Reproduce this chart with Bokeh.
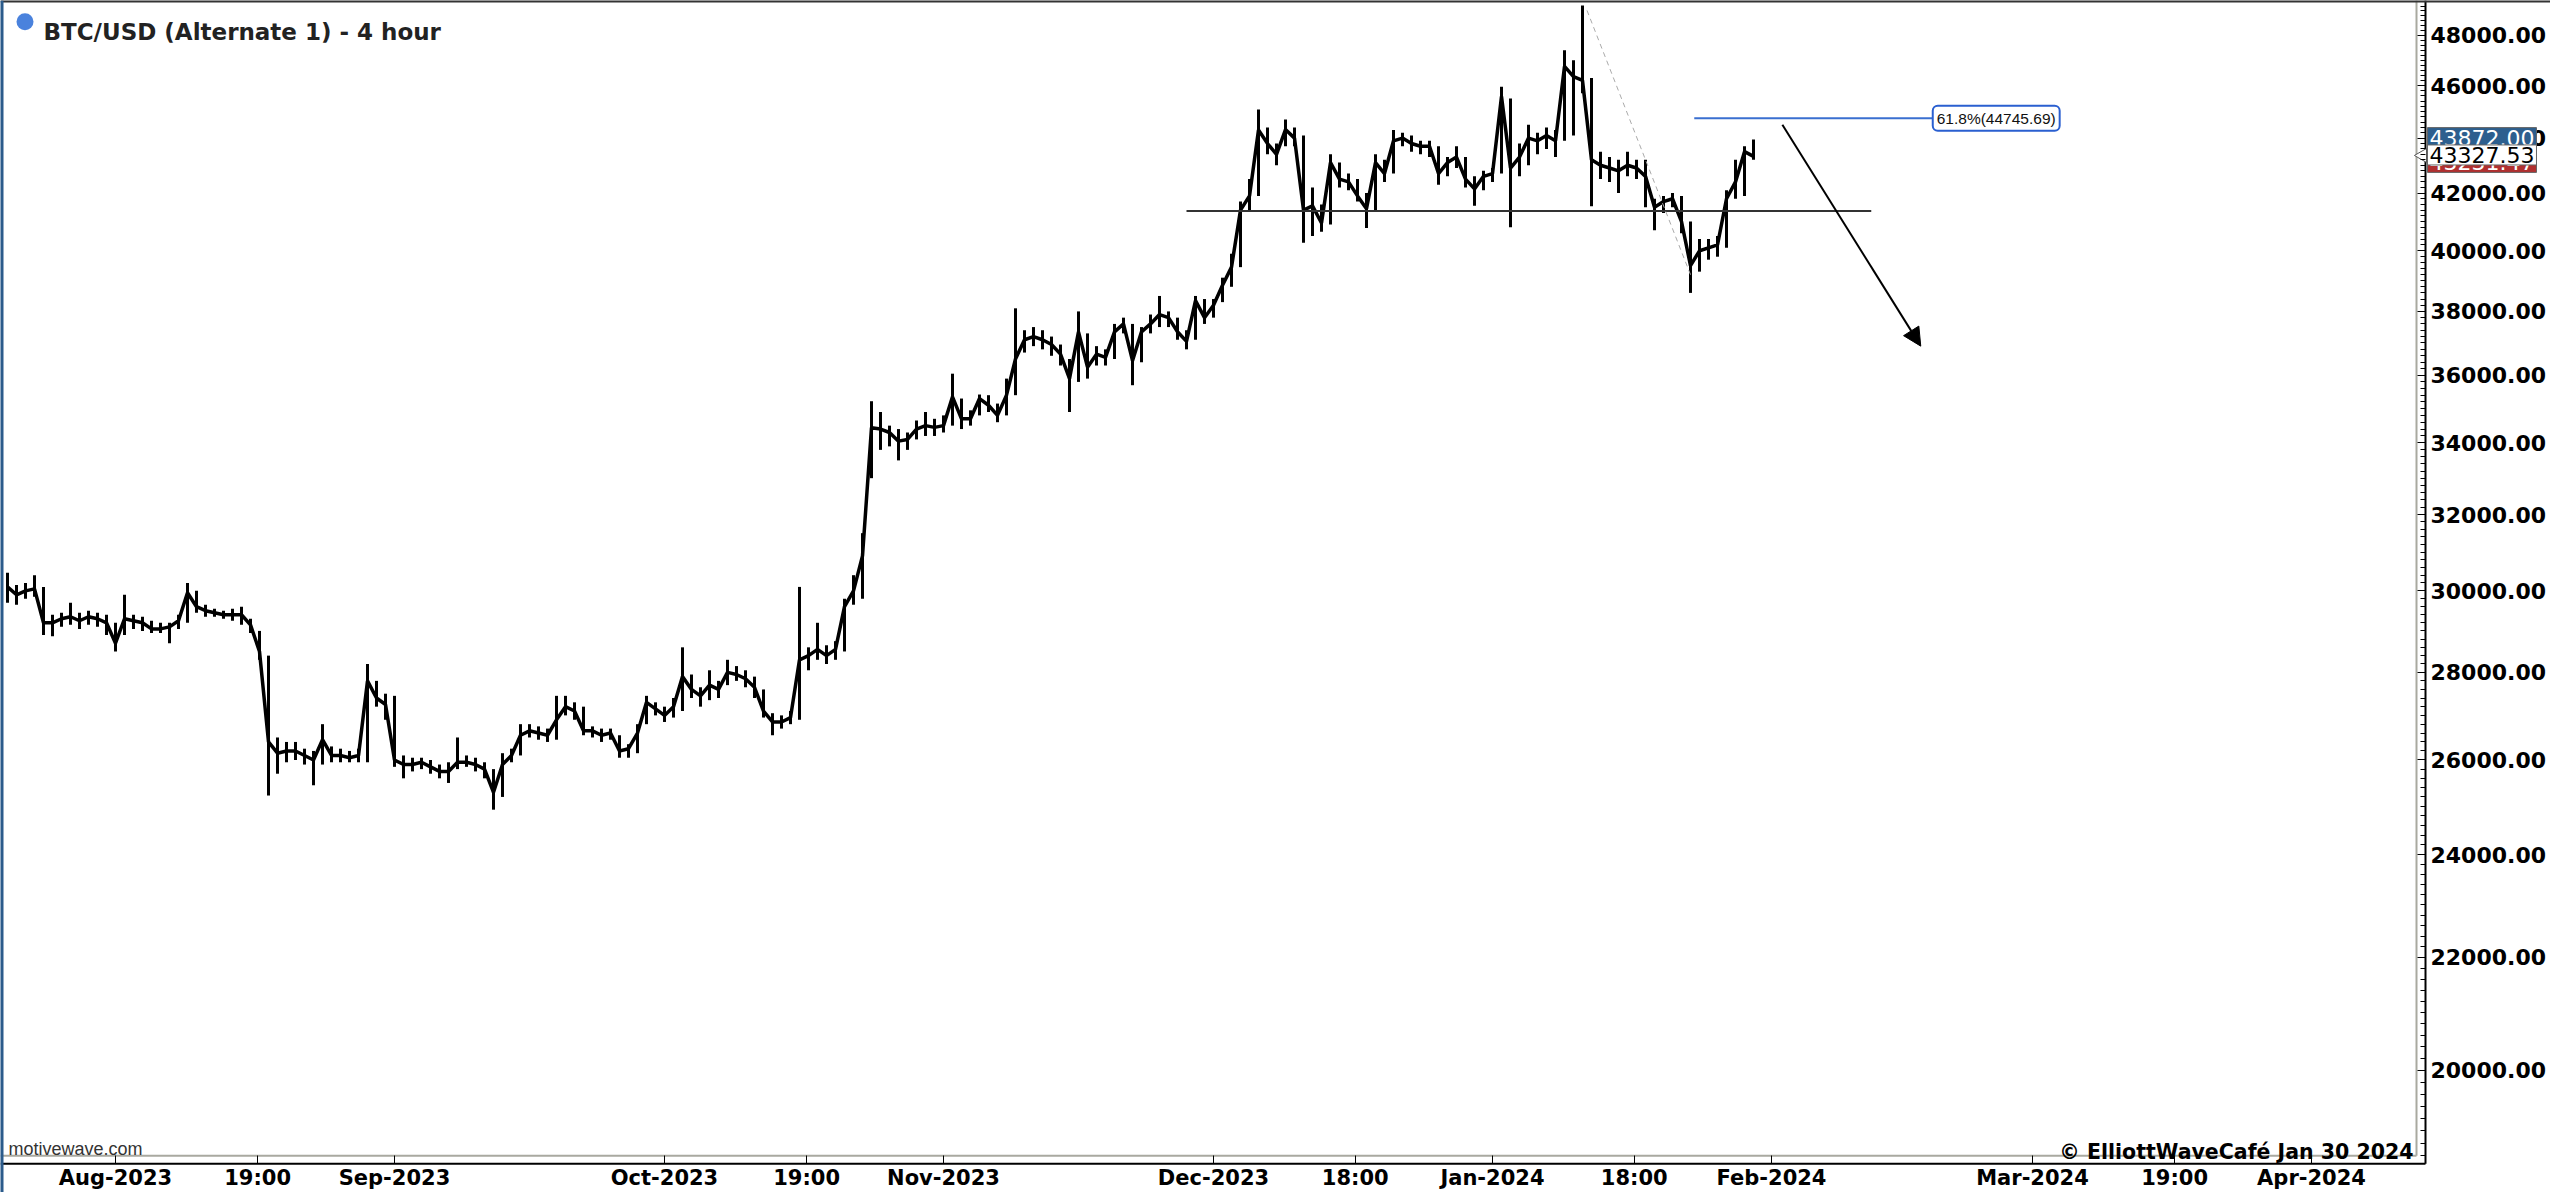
import numpy as np
import pandas as pd
from bokeh.plotting import figure
from bokeh.models import (Range1d, FixedTicker, NumeralTickFormatter, Label, Span,
                          Arrow, NormalHead, ColumnDataSource)
from bokeh.embed import file_html
from bokeh.resources import INLINE

# ---------------- data (daily readings of the 4h chart) ----------------
start_date = "2023-07-20"
close = [30100, 29900, 30000, 30050, 29200, 29200, 29300, 29350, 29250, 29350,
         29300, 29200, 28700, 29300, 29250, 29200, 29050, 29050, 29100, 29250,
         29950, 29600, 29500, 29450, 29400, 29400, 29400, 29150, 28500, 26400,
         26150, 26200, 26200, 26100, 26000, 26450, 26100, 26100, 26050, 26100,
         27800, 27400, 27250, 26000, 25900, 25900, 25950, 25850, 25750, 25750,
         25950, 25950, 25900, 25800, 25300, 25900, 26100, 26550, 26650, 26600,
         26550, 26900, 27200, 27100, 26650, 26650, 26550, 26600, 26200, 26250,
         26600, 27300, 27150, 27000, 27200, 27900, 27600, 27450, 27700, 27600,
         28000, 27950, 27850, 27650, 27100, 26850, 26850, 26950, 28300, 28400,
         28550, 28400, 28550, 29600, 30000, 30900, 34440, 34400, 34300, 34050,
         34100, 34400, 34500, 34450, 34500, 35350, 34700, 34700, 35300, 35100,
         34800, 35400, 36500, 37100, 37200, 37100, 36950, 36650, 35900, 37350,
         36250, 36650, 36550, 37350, 37600, 36450, 37350, 37600, 37900, 37800,
         37350, 37050, 38350, 37800, 38200, 38850, 39450, 41400, 41900, 44300,
         43800, 43400, 44320, 44000, 41400, 41550, 40950, 43100, 42500, 42400,
         41900, 41450, 43100, 42700, 43900, 44000, 43800, 43700, 43700, 42700,
         43100, 43300, 42500, 42150, 42600, 42700, 45580, 42900, 43300, 44000,
         43900, 44100, 43900, 46750, 46350, 46200, 43200, 43000, 42900, 42800,
         43000, 42900, 42600, 41500, 41700, 41800, 41000, 39500, 40000, 40100,
         40200, 41800, 42400, 43500, 43327.53]
high = [30460, 30150, 30200, 30400, 30100, 29400, 29450, 29700, 29450, 29500,
        29450, 29400, 29200, 29900, 29400, 29350, 29250, 29200, 29200, 29400,
        30200, 30000, 29650, 29550, 29500, 29550, 29600, 29300, 29000, 28400,
        26500, 26400, 26400, 26250, 26200, 26800, 26300, 26250, 26200, 26250,
        28200, 27800, 27500, 27450, 26100, 26050, 26050, 26000, 25900, 25950,
        26500, 26100, 26050, 25950, 25800, 26150, 26250, 26800, 26800, 26750,
        26700, 27450, 27450, 27300, 27200, 26750, 26700, 26700, 26550, 26350,
        26800, 27450, 27300, 27200, 27400, 28600, 27950, 27650, 28050, 27800,
        28300, 28150, 28050, 27900, 27600, 27050, 27000, 27100, 30100, 28600,
        29200, 28650, 28750, 29800, 30400, 31500, 35220, 34900, 34500, 34400,
        34300, 34650, 34900, 34700, 34800, 36050, 35300, 34950, 35420, 35400,
        35150, 35900, 38100, 37400, 37500, 37400, 37200, 36950, 36500, 38000,
        37300, 36900, 36800, 37600, 37800, 37600, 37500, 37900, 38500, 38000,
        37800, 37400, 38500, 38400, 38400, 39100, 39900, 41700, 42500, 45080,
        44400, 43800, 44700, 44400, 44100, 42200, 41600, 43400, 43100, 42700,
        42500, 42000, 43400, 43200, 44300, 44200, 44100, 43900, 43900, 43700,
        43300, 43700, 43300, 42600, 42800, 42900, 45950, 45500, 43800, 44500,
        44200, 44400, 44300, 47400, 47000, 49220, 46300, 43500, 43300, 43200,
        43500, 43200, 43200, 41800, 41900, 42000, 41900, 41000, 40400, 40400,
        40500, 42100, 43200, 43700, 43950]
low = [29700, 29650, 29800, 29850, 28900, 28870, 29100, 29150, 29050, 29150,
       29100, 28900, 28500, 28900, 29050, 29000, 28950, 28950, 28700, 29050,
       29200, 29450, 29350, 29350, 29300, 29250, 29150, 28950, 28300, 25230,
       25700, 25950, 26000, 25900, 25450, 25900, 25950, 25950, 25950, 25950,
       25950, 27200, 26900, 25850, 25600, 25750, 25800, 25700, 25600, 25500,
       25800, 25850, 25750, 25600, 24930, 25200, 25950, 26100, 26500, 26450,
       26400, 26450, 27000, 26900, 26550, 26500, 26400, 26450, 26050, 26050,
       26150, 26800, 27000, 26850, 26950, 27100, 27400, 27200, 27350, 27400,
       27700, 27800, 27650, 27400, 26950, 26550, 26700, 26800, 26900, 28050,
       28300, 28200, 28300, 28500, 29650, 29800, 33000, 33800, 33900, 33500,
       33800, 34100, 34200, 34200, 34300, 34500, 34400, 34500, 34800, 34900,
       34600, 34800, 35400, 36700, 36900, 36800, 36600, 36300, 34900, 35800,
       35900, 36300, 36300, 36500, 37300, 35700, 36400, 37300, 37500, 37500,
       37100, 36800, 37100, 37600, 37800, 38300, 38800, 39450, 41400, 41900,
       43400, 43000, 43700, 43700, 40270, 40500, 40650, 40900, 42200, 42100,
       41700, 40780, 41400, 42400, 42700, 43700, 43500, 43400, 43300, 42300,
       42600, 42900, 42200, 41550, 42100, 42400, 42700, 40800, 42600, 43000,
       43400, 43600, 43300, 43900, 44100, 45700, 41540, 42500, 42400, 42000,
       42600, 42500, 41500, 40700, 41300, 41500, 40600, 38600, 39300, 39700,
       39800, 40100, 41800, 41900, 43200]

last_price = 43327.53
tag_blue = 43872.00
tag_red = 43231.47

y_ticks = list(range(20000, 48001, 2000))
tick_times = ["2023-08-01 00:00", "2023-08-16 19:00", "2023-09-01 00:00", "2023-10-01 00:00",
              "2023-10-16 19:00", "2023-11-01 00:00", "2023-12-01 00:00", "2023-12-16 18:00",
              "2024-01-01 00:00", "2024-01-16 18:00", "2024-02-01 00:00", "2024-03-01 00:00",
              "2024-03-16 19:00", "2024-04-01 00:00"]
tick_labels = ["Aug-2023", "19:00", "Sep-2023", "Oct-2023", "19:00", "Nov-2023", "Dec-2023",
               "18:00", "Jan-2024", "18:00", "Feb-2024", "Mar-2024", "19:00", "Apr-2024"]

# drawings
neck_price = 41370
neck_times = ["2023-11-28 00:00", "2024-02-12 02:00"]
fib_price = 44745.69
fib_times = ["2024-01-23 10:00", "2024-02-18 22:00"]
swing_times = ["2024-01-11 12:00", "2024-01-23 00:00"]
swing_prices = [49020, 39200]
arrow_times = ["2024-02-02 05:00", "2024-02-17 14:00"]
arrow_prices = [44500, 36900]

# ---------------- helpers ----------------
origin = pd.Timestamp("2023-08-01")
def hrs(t):
    return float((pd.Timestamp(t) - origin) / pd.Timedelta(hours=1))

dates = pd.date_range(start_date, periods=len(close), freq="D")
xh = ((dates - origin) / pd.Timedelta(hours=1)).to_numpy().astype(float)

# pixel layout of the reference -> data coords (layout only)
def px2x(xr):
    return (xr - 115.0) / 9.0 * 24.0
def py2p(yr):
    return 48000.0 * np.exp((35.0 - yr) / 1190.0)

W, H = 2550, 1192
x0, x1 = px2x(0), px2x(W)
y0, y1 = py2p(1200), py2p(0)
axis_x = px2x(2425)     # right price scale position
axis_y = py2p(1171)     # time scale position

p = figure(width=W, height=H, output_backend="svg", toolbar_location=None,
           y_axis_type="log", y_axis_location="right",
           x_range=Range1d(x0, x1), y_range=Range1d(y0, y1),
           min_border_left=0, min_border_top=0, min_border_bottom=0, min_border_right=0)
p.outline_line_color = None
p.background_fill_color = "white"
p.border_fill_color = "white"
p.xgrid.visible = False
p.ygrid.visible = False

# y axis
p.yaxis.fixed_location = axis_x
p.yaxis.ticker = FixedTicker(ticks=y_ticks, minor_ticks=list(range(18600, 49500, 200)))
p.yaxis.formatter = NumeralTickFormatter(format="0.00")
p.yaxis.major_label_text_font = "DejaVu Sans"
p.yaxis.major_label_text_font_style = "bold"
p.yaxis.major_label_text_font_size = "22px"
p.yaxis.major_label_text_color = "black"
p.yaxis.major_tick_in = 8
p.yaxis.major_tick_out = 0
p.yaxis.minor_tick_in = 5
p.yaxis.minor_tick_out = 0
p.yaxis.axis_line_color = None
p.yaxis.major_tick_line_color = "black"
p.yaxis.minor_tick_line_color = "black"
p.yaxis.major_label_standoff = 5

# x axis
tick_h = [hrs(t) for t in tick_times]
p.xaxis.fixed_location = axis_y
p.xaxis.ticker = FixedTicker(ticks=tick_h)
p.xaxis.major_label_overrides = {h: lab for h, lab in zip(tick_h, tick_labels)}
p.xaxis.major_label_text_font = "DejaVu Sans"
p.xaxis.major_label_text_font_style = "bold"
p.xaxis.major_label_text_font_size = "21px"
p.xaxis.major_label_text_color = "black"
p.xaxis.major_tick_in = 8
p.xaxis.major_tick_out = 0
p.xaxis.minor_tick_line_color = None
p.xaxis.axis_line_color = None
p.xaxis.major_tick_line_color = "black"
p.xaxis.major_label_standoff = 2

# frame decorations
p.line(x=[px2x(2416)] * 2, y=[py2p(1163), y1], line_color="#a9a9a0", line_width=2)
p.line(x=[x0, px2x(2416)], y=[py2p(1163)] * 2, line_color="#a9a9a0", line_width=2)
p.line(x=[x0, axis_x], y=[axis_y, axis_y], line_color="black", line_width=2)
p.line(x=[axis_x, axis_x], y=[axis_y, y1], line_color="black", line_width=2)
p.add_layout(Span(location=y1, dimension="width", line_color="#333333", line_width=4))
p.add_layout(Span(location=x0, dimension="height", line_color="#2b5b8b", line_width=6))

# price series
src = ColumnDataSource(dict(x=xh, c=close, h=high, l=low))
p.segment(x0="x", y0="l", x1="x", y1="h", source=src, line_color="black", line_width=3)
p.line(x="x", y="c", source=src, line_color="black", line_width=3.5)

# neckline
p.line(x=[hrs(t) for t in neck_times], y=[neck_price, neck_price], line_color="#333333", line_width=2)
# fib level
p.line(x=[hrs(t) for t in fib_times], y=[fib_price, fib_price], line_color="#3a6fd0", line_width=2)
p.add_layout(Label(x=hrs(fib_times[1]), y=fib_price, text="61.8%(44745.69)",
                   text_font="Liberation Sans", text_font_size="15.5px", text_color="#111111",
                   text_align="left", text_baseline="middle",
                   background_fill_color="white", border_line_color="#2a5fd0", border_line_width=2,
                   padding=4, border_radius=5))
# dashed swing line
p.line(x=[hrs(t) for t in swing_times], y=swing_prices, line_color="#aaaaaa", line_width=1, line_dash="5 4")
# projection arrow
p.add_layout(Arrow(end=NormalHead(size=18, fill_color="black", line_color="black"),
                   x_start=hrs(arrow_times[0]), y_start=arrow_prices[0],
                   x_end=hrs(arrow_times[1]), y_end=arrow_prices[1],
                   line_color="black", line_width=2))

# title
p.scatter(x=[px2x(24.5)], y=[py2p(21.5)], size=17, marker="circle", fill_color="#4a82dd", line_color=None)
p.add_layout(Label(x=px2x(43), y=py2p(32), text="BTC/USD (Alternate 1) - 4 hour",
                   text_font="DejaVu Sans", text_font_style="bold", text_font_size="23px",
                   text_color="#222222", text_baseline="alphabetic"))
# watermarks
p.add_layout(Label(x=px2x(8), y=py2p(1156), text="motivewave.com",
                   text_font="Liberation Sans", text_font_size="18px",
                   text_color="#333333", text_baseline="alphabetic"))
p.add_layout(Label(x=px2x(2413), y=py2p(1159), text="\u00a9 ElliottWaveCaf\u00e9 Jan 30 2024",
                   text_font="DejaVu Sans", text_font_style="bold", text_font_size="20.5px",
                   text_color="black", text_align="right", text_baseline="alphabetic"))

# price tags on the price scale
p.scatter(x=[px2x(2422)], y=[py2p(156)], marker="triangle", angle=np.pi / 2, size=14,
          fill_color="white", line_color="#555555")
tag_rows = [(tag_blue, 138, "#2d5f8e", "white"), (tag_red, 163, "#b03030", "white"),
            (last_price, 155.5, "white", "black")]
for val, ypix, bg, fg in tag_rows:
    p.add_layout(Label(x=px2x(2427), y=py2p(ypix), text=f"{val:.2f}",
                       text_font="DejaVu Sans", text_font_size="22px", text_color=fg,
                       text_align="left", text_baseline="middle",
                       background_fill_color=bg, border_line_color="#666666", border_line_width=1,
                       padding=2))

open("out.html", "w").write(file_html(p, INLINE))
